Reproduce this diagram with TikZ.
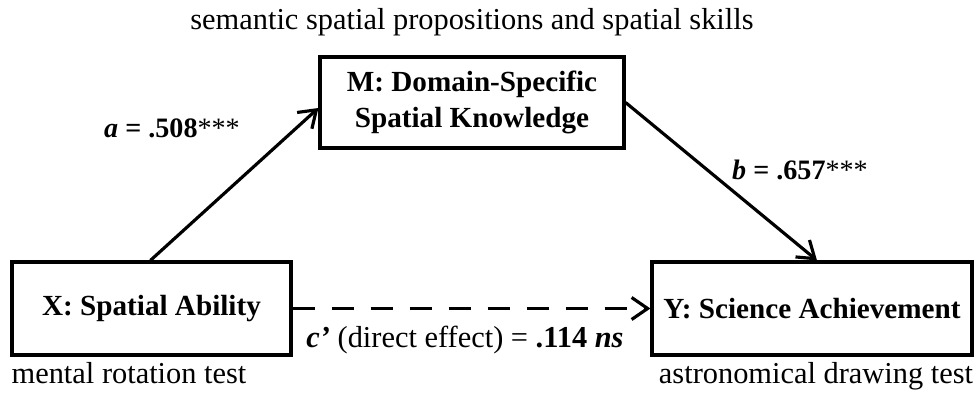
\documentclass[tikz,border=0pt]{standalone}
\usepackage{fontspec}
\setmainfont{Liberation Serif}
\usepackage{tikz}
\usetikzlibrary{arrows.meta}

\begin{document}
\begin{tikzpicture}[
    font=\fontsize{17.3}{20}\selectfont,
    box/.style={
        rectangle,
        draw,
        line width=1.8pt,
        text centered,
        font=\fontsize{16.6}{20}\selectfont\bfseries
    },
    pathlabel/.style={font=\fontsize{16}{19}\selectfont},
    arrow/.style={-{Straight Barb[length=0.32cm,width=0.44cm]}, line width=1.8pt},
    direct/.style={arrow, dash pattern=on 0.44cm off 0.34cm}
]
\useasboundingbox (0,0) rectangle (19.54,-7.92);

\node[box, minimum width=6.08cm, minimum height=1.82cm, align=center] (knowledge) at (9.44, -2.05) {M: Domain-Specific\\Spatial Knowledge};
\node[box, minimum width=5.58cm, minimum height=1.86cm] (ability) at (3.03, -6.17) {X: Spatial Ability};
\node[box, minimum width=6.4cm, minimum height=1.86cm] (achievement) at (16.24, -6.17) {Y: Science Achievement};

\node[anchor=base] (semantic) at (9.44, -0.6) {semantic spatial propositions and spatial skills};
\node[anchor=base] (rotation) at (2.58, -7.68) {mental rotation test};
\node[anchor=base] (drawing) at (16.32, -7.68) {astronomical drawing test};

\draw[arrow] ([xshift=2.8cm]ability.north west) -- ([yshift=-0.11cm]knowledge.west);
\draw[arrow] (knowledge.east) -- ([xshift=0.1cm]achievement.north);
\draw[direct] (ability.east) -- (achievement.west);

\node[pathlabel] (apath) at (3.44, -2.56) {\textbf{\textit{a} = .508}***};
\node[pathlabel] (bpath) at (16.0, -3.4) {\textbf{\textit{b} = .657}***};
\node (cpath) at (9.3, -6.8) {\textbf{\textit{c’}} (direct effect) = \textbf{.114 \textit{ns}}};

\end{tikzpicture}
\end{document}
